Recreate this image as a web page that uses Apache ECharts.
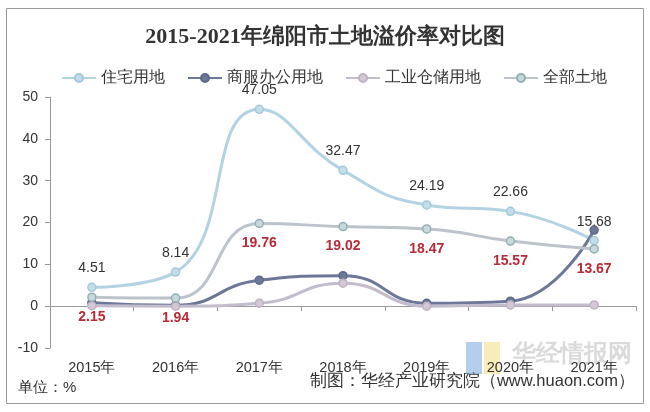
<!DOCTYPE html>
<html><head><meta charset="utf-8">
<script src="https://cdn.jsdelivr.net/npm/echarts@6/dist/echarts.min.js"></script>
<style>html,body{margin:0;padding:0;background:#fff}#c{width:650px;height:412px}</style>
</head><body><div id="c"></div>
<script>
var categories = ['2015年','2016年','2017年','2018年','2019年','2020年','2021年'];
var residential = [4.51, 8.14, 47.05, 32.47, 24.19, 22.66, 15.68];
var commercial = [0.8, 0.2, 6.2, 7.3, 0.7, 1.2, 18.2];
var industrial = [0.1, 0.0, 0.7, 5.5, 0.0, 0.3, 0.3];
var allLand = [2.15, 1.94, 19.76, 19.02, 18.47, 15.57, 13.67];
var yTicks = [-10, 0, 10, 20, 30, 40, 50];

var chart = echarts.init(document.getElementById('c'));
var font = 'Liberation Sans, Arial, sans-serif';
function mk(name, data, color, fill, border, label) {
  return {
    name: name, type: 'line', data: data, smooth: 0.5,
    symbol: 'circle', symbolSize: 8,
    lineStyle: {color: color, width: 3},
    itemStyle: {color: fill, borderColor: border, borderWidth: 1.5},
    label: label || {show: false},
    z: 3
  };
}
chart.setOption({
  animation: false,
  title: {
    text: '2015-2021年绵阳市土地溢价率对比图', left: 'center', top: 21,
    textStyle: {fontFamily: 'Liberation Serif, DejaVu Serif, serif', fontSize: 22, fontWeight: 'bold', color: '#333'}
  },
  legend: {
    top: 65, left: 56, itemGap: 22, itemWidth: 34, itemHeight: 10,
    textStyle: {fontSize: 16, color: '#333', fontFamily: font},
    data: ['住宅用地','商服办公用地','工业仓储用地','全部土地']
  },
  grid: {left: 50, right: 14, top: 97, bottom: 64},
  xAxis: [{
    type: 'category', data: categories, position: 'bottom',
    axisLine: {show: false, onZero: false}, axisTick: {show: false},
    axisLabel: {fontSize: 14.5, color: '#333', fontFamily: font, margin: 12}
  }, {
    type: 'category', data: categories, position: 'bottom',
    axisLine: {show: true, onZero: true, lineStyle: {color: '#999'}},
    axisTick: {show: true, length: 5, alignWithLabel: false, lineStyle: {color: '#999'}},
    axisLabel: {show: false}
  }],
  yAxis: {
    type: 'value', min: yTicks[0], max: yTicks[yTicks.length-1], interval: 10,
    axisLine: {show: true, lineStyle: {color: '#999'}},
    axisTick: {show: true, length: 5, lineStyle: {color: '#999'}},
    splitLine: {show: false},
    axisLabel: {fontSize: 14, color: '#333', fontFamily: font, margin: 12}
  },
  series: [
    mk('住宅用地', residential, '#b3d3e3', '#c3dde9', '#a4c9da',
      {show: true, position: 'top', distance: 7, fontSize: 14, color: '#333', fontFamily: font}),
    mk('商服办公用地', commercial, '#6d7898', '#6d7898', '#5f6a8a'),
    mk('工业仓储用地', industrial, '#c2bccd', '#d3c8d3', '#bdb3c4'),
    mk('全部土地', allLand, '#bcc3ca', '#c9d8da', '#8fb1b5',
      {show: true, position: 'bottom', distance: 8, fontSize: 14, fontWeight: 'bold', color: '#b82a35', fontFamily: font})
  ],
  graphic: [
    {type: 'rect', shape: {x: 6.5, y: 8.5, width: 637, height: 395}, style: {fill: 'none', stroke: '#999', lineWidth: 1}},
    {type: 'text', left: 18, top: 380, style: {text: '单位：%', fontSize: 15, fill: '#333', fontFamily: font}},
    {type: 'text', right: 15, top: 373, style: {text: '制图：华经产业研究院（www.huaon.com）', fontSize: 16.5, fill: '#333', fontFamily: font}},
    {type: 'rect', shape: {x: 466, y: 342, width: 16, height: 32}, style: {fill: 'rgba(120,165,220,0.55)'}, z: 0},
    {type: 'rect', shape: {x: 484, y: 342, width: 16, height: 32}, style: {fill: 'rgba(240,220,120,0.5)'}, z: 0},
    {type: 'text', left: 512, top: 342, style: {text: '华经情报网', fontSize: 24, fontWeight: 'bold', fill: 'rgba(150,150,150,0.35)', fontFamily: font}, z: 0}
  ]
});
</script></body></html>
